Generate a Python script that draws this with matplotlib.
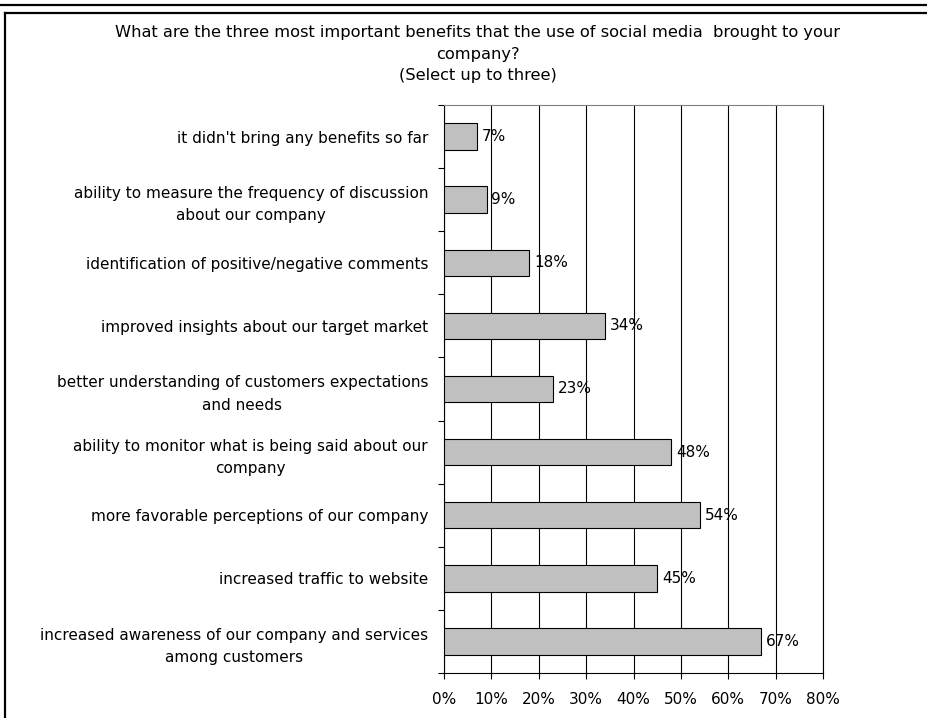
import numpy as np
import matplotlib
matplotlib.use("Agg")
from matplotlib import pyplot as plt
from matplotlib.lines import Line2D
from matplotlib.ticker import FuncFormatter, FixedLocator

plt.rcParams['font.family'] = ['DejaVu Sans']

# survey answers, listed top to bottom
labels = [
    "it didn't bring any benefits so far",
    "ability to measure the frequency of discussion\nabout our company",
    "identification of positive/negative comments",
    "improved insights about our target market",
    "better understanding of customers expectations\nand needs",
    "ability to monitor what is being said about our\ncompany",
    "more favorable perceptions of our company",
    "increased traffic to website",
    "increased awareness of our company and services\namong customers",
]
values = [7, 9, 18, 34, 23, 48, 54, 45, 67]
title = ("What are the three most important benefits that the use of social media  brought to your\n"
         "company?\n(Select up to three)")

W, H = 928, 718
fig = plt.figure(figsize=(W / 100, H / 100), dpi=100)
fs = 11

# outer frame lines
fig.add_artist(Line2D([0, 1], [1 - 5 / H, 1 - 5 / H], color='black', lw=1.6))
fig.add_artist(Line2D([5 / W, 1], [1 - 12.5 / H, 1 - 12.5 / H], color='black', lw=1.6))
fig.add_artist(Line2D([5 / W, 5 / W], [0, 1 - 12.5 / H], color='black', lw=1.6))

fig.text(478 / W, 1 - 25 / H, title, ha='center', va='top', fontsize=11.7,
         linespacing=1.56)

ax = fig.add_axes([444 / W, 1 - 673 / H, (823 - 444) / W, (673 - 105) / H])

n = len(values)
ypos = np.arange(n)
ax.barh(ypos, values, height=0.42, color='#c0c0c0', edgecolor='black',
        linewidth=0.8, zorder=3)
for y, v in zip(ypos, values):
    ax.annotate(f"{v}%", (v, y), xytext=(3.5, 0), textcoords='offset points',
                va='center', ha='left', fontsize=fs, zorder=4)

ax.set_ylim(n - 0.5, -0.5)
ax.set_xlim(0, 80)
ax.set_xticks(np.arange(0, 81, 10))
ax.xaxis.set_major_formatter(FuncFormatter(lambda x, p: f"{x:.0f}%"))
ax.grid(axis='x', color='black', linewidth=0.8, zorder=0)

ax.set_yticks(ypos)
ax.set_yticklabels(labels, fontsize=fs, multialignment='center', linespacing=1.6)
ax.yaxis.set_minor_locator(FixedLocator(np.arange(-0.5, n, 1)))
ax.tick_params(axis='y', which='major', length=0, pad=11.5)
ax.tick_params(axis='y', which='minor', length=4, width=0.8, color='black')
ax.tick_params(axis='x', length=4, width=0.8, pad=10, labelsize=fs)

for s in ['left', 'bottom', 'right']:
    ax.spines[s].set_color('black')
    ax.spines[s].set_linewidth(0.8)
ax.spines['top'].set_color('#808080')
ax.spines['top'].set_linewidth(0.8)

fig.savefig('out.png', dpi=100)
